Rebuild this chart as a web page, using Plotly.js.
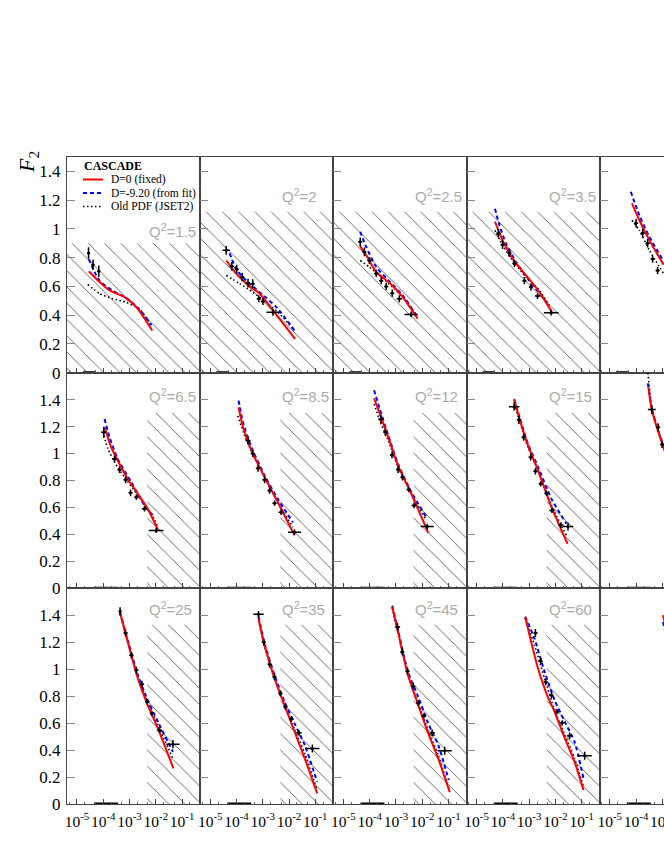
<!DOCTYPE html>
<html><head><meta charset="utf-8">
<script src="https://cdn.plot.ly/plotly-3.0.1.min.js"></script>
<style>html,body{margin:0;padding:0;overflow:hidden;background:#fff;}#chart{width:760px;height:860px;}</style>
</head><body><div id="chart"></div>
<script>
// ---------------- DATA (x given as log10(x), F2 values) ----------------
const q2Labels = ['1.5','2','2.5','3.5','5','6.5','8.5','12','15','20','25','35','45','60','90'];
const xTickVals = [1e-5, 1e-4, 1e-3, 1e-2, 1e-1];
const xTickText = ['10<sup>-5</sup>','10<sup>-4</sup>','10<sup>-3</sup>','10<sup>-2</sup>','10<sup>-1</sup>'];
const yTickVals = [0, 0.2, 0.4, 0.6, 0.8, 1, 1.2, 1.4];

// hatched (excluded) regions: start log10(x) and upper F2 value
const hatchFromLx = [-5.38,-5.38,-5.38,-5.38,null, -2.33,-2.33,-2.33,-2.33,-2.33, -2.33,-2.33,-2.33,-2.33,-2.33];
const hatchTop    = [0.90, 1.12, 1.12, 1.12, null, 1.30, 1.30, 1.30, 1.30, 1.30, 1.33, 1.33, 1.33, 1.33, 1.33];
// short thick segments on the x axis
const zeroBandTopRow = [-4.77, -4.31];
const zeroBandLowRows = [-4.35, -3.44];

// Q2 = 1.5
const d1_lx=[-4.56,-4.39,-4.17], d1_f2=[0.833,0.75,0.705], d1_e=[0.04,0.035,0.04], d1_w=[0.06,0.06,0.06];
const r1_lx=[-4.55,-4.14,-3.76,-3.19,-2.74,-2.135], r1_f2=[0.705,0.63,0.572,0.526,0.456,0.293];
const b1_lx=[-4.55,-4.33,-4.14,-3.64,-3.13,-2.62,-2.17], b1_f2=[0.79,0.70,0.64,0.57,0.52,0.44,0.33];
const o1_lx=[-4.59,-4.14,-3.64,-3.13,-2.62,-2.17], o1_f2=[0.614,0.55,0.514,0.49,0.44,0.33];
// Q2 = 2
const d2_lx=[-4.39,-4.18,-3.99,-3.78,-3.56,-3.38,-3.15,-2.99,-2.61], d2_f2=[0.851,0.74,0.72,0.665,0.623,0.619,0.514,0.495,0.42];
const d2_e=[0.03,0.03,0.03,0.03,0.03,0.03,0.025,0.025,0.025], d2_w=[0.14,0.08,0.08,0.08,0.08,0.08,0.08,0.08,0.25];
const r2_lx=[-4.39,-4.01,-3.63,-3.12,-2.61,-1.77], r2_f2=[0.78,0.69,0.62,0.55,0.433,0.235];
const b2_lx=[-4.26,-4.01,-3.63,-3.12,-2.48,-1.79], b2_f2=[0.83,0.72,0.64,0.56,0.456,0.293];
const o2_lx=[-4.39,-3.885,-3.38,-2.87,-2.36,-1.85], o2_f2=[0.677,0.62,0.56,0.49,0.41,0.305];
// Q2 = 2.5
const d3_lx=[-4.36,-4.20,-4.01,-3.75,-3.56,-3.37,-3.14,-2.87,-2.42], d3_f2=[0.91,0.84,0.78,0.69,0.64,0.60,0.553,0.514,0.405];
const d3_e=[0.03,0.03,0.025,0.025,0.025,0.025,0.025,0.025,0.02], d3_w=[0.08,0.08,0.08,0.08,0.08,0.08,0.08,0.1,0.25];
const r3_lx=[-4.36,-4.13,-3.75,-3.22,-2.74,-2.17], r3_f2=[0.88,0.816,0.70,0.62,0.526,0.375];
const b3_lx=[-4.36,-4.13,-3.75,-3.22,-2.74,-2.22], b3_f2=[0.98,0.874,0.735,0.63,0.537,0.398];
const o3_lx=[-4.36,-4.01,-3.63,-3.12,-2.61,-2.22], o3_f2=[0.78,0.735,0.677,0.595,0.50,0.40];
// Q2 = 3.5
const d4_lx=[-4.17,-4.01,-3.75,-3.56,-3.18,-2.93,-2.68,-2.16], d4_f2=[0.97,0.89,0.83,0.76,0.64,0.595,0.533,0.417];
const d4_e=[0.03,0.03,0.025,0.025,0.025,0.025,0.02,0.02], d4_w=[0.08,0.08,0.08,0.08,0.08,0.08,0.1,0.28];
const r4_lx=[-4.30,-4.01,-3.63,-3.12,-2.61,-2.13], r4_f2=[1.05,0.92,0.793,0.677,0.56,0.42];
const b4_lx=[-4.30,-4.13,-3.885,-3.50,-2.99,-2.235], b4_f2=[1.14,1.026,0.90,0.77,0.64,0.467];
const o4_lx=[-4.30,-4.01,-3.63,-3.12,-2.61,-2.235], o4_f2=[0.99,0.886,0.78,0.665,0.572,0.467];
// Q2 = 5
const d5_lx=[-4.0,-3.75,-3.56,-3.37,-3.18], d5_f2=[1.04,0.97,0.90,0.79,0.71];
const d5_e=[0.03,0.03,0.03,0.025,0.025], d5_w=[0.08,0.08,0.08,0.08,0.08];
const r5_lx=[-4.155,-3.875,-3.49,-2.95], r5_f2=[1.177,1.06,0.92,0.75];
const b5_lx=[-4.20,-3.875,-3.49,-2.95], b5_f2=[1.258,1.095,0.944,0.775];
const o5_lx=[-4.155,-3.875,-3.49,-2.95], o5_f2=[1.06,0.99,0.85,0.69];
// Q2 = 6.5
const d6_lx=[-3.98,-3.57,-3.38,-3.15,-2.96,-2.74,-2.43,-1.985], d6_f2=[1.158,0.96,0.88,0.805,0.709,0.676,0.59,0.43];
const d6_e=[0.04,0.025,0.025,0.025,0.025,0.02,0.02,0.02], d6_w=[0.1,0.08,0.08,0.08,0.08,0.08,0.1,0.28];
const r6_lx=[-3.95,-3.70,-3.45,-3.065,-2.68,-2.31,-1.92], r6_f2=[1.195,1.047,0.948,0.81,0.70,0.59,0.435];
const b6_lx=[-3.95,-3.76,-3.45,-2.93,-2.43,-2.05], b6_f2=[1.257,1.12,0.96,0.787,0.615,0.528];
const o6_lx=[-3.98,-3.82,-3.57,-3.19,-2.68,-2.17,-1.92], o6_f2=[1.133,1.035,0.936,0.825,0.69,0.553,0.454];
// Q2 = 8.5
const d7_lx=[-3.56,-3.38,-3.18,-2.93,-2.74,-2.55,-2.30,-1.79], d7_f2=[1.096,1.0,0.89,0.805,0.726,0.632,0.565,0.417];
const d7_e=[0.03,0.025,0.025,0.025,0.025,0.02,0.02,0.02], d7_w=[0.1,0.08,0.08,0.08,0.08,0.08,0.1,0.25];
const r7_lx=[-3.92,-3.75,-3.43,-2.93,-2.43,-1.79], r7_f2=[1.343,1.195,1.022,0.825,0.64,0.393];
const b7_lx=[-3.92,-3.75,-3.43,-2.93,-2.43,-1.85], b7_f2=[1.393,1.23,1.047,0.837,0.664,0.49];
const o7_lx=[-3.95,-3.69,-3.38,-2.93,-2.43,-1.85], o7_f2=[1.28,1.133,0.998,0.825,0.64,0.454];
// Q2 = 12
const d8_lx=[-3.57,-3.40,-3.15,-2.92,-2.75,-2.515,-2.31,-1.81], d8_f2=[1.257,1.158,0.99,0.881,0.825,0.733,0.615,0.459];
const d8_e=[0.03,0.03,0.025,0.025,0.025,0.02,0.02,0.02], d8_w=[0.1,0.08,0.08,0.08,0.08,0.08,0.1,0.25];
const r8_lx=[-3.83,-3.615,-3.29,-2.92,-2.41,-1.77], r8_f2=[1.41,1.294,1.12,0.911,0.70,0.412];
const b8_lx=[-3.83,-3.615,-3.29,-2.92,-2.41,-1.84], b8_f2=[1.47,1.33,1.133,0.923,0.713,0.528];
const o8_lx=[-3.83,-3.615,-3.29,-2.92,-2.41,-1.84], o8_f2=[1.368,1.244,1.096,0.90,0.70,0.504];
// Q2 = 15
const d9_lx=[-3.57,-3.39,-3.21,-2.94,-2.76,-2.56,-2.34,-2.13,-1.79,-1.52], d9_f2=[1.348,1.25,1.12,0.973,0.869,0.775,0.706,0.578,0.47,0.459];
const d9_e=[0.03,0.03,0.025,0.025,0.025,0.02,0.02,0.02,0.02,0.03], d9_w=[0.2,0.08,0.08,0.08,0.08,0.08,0.08,0.1,0.1,0.2];
const r9_lx=[-3.57,-3.345,-3.045,-2.66,-2.15,-1.54], r9_f2=[1.405,1.244,1.06,0.874,0.602,0.331];
const b9_lx=[-3.57,-3.345,-3.045,-2.66,-2.15,-1.58], b9_f2=[1.40,1.257,1.072,0.90,0.664,0.479];
const o9_lx=[-3.57,-3.345,-3.045,-2.66,-2.15,-1.58], o9_f2=[1.368,1.23,1.047,0.874,0.615,0.393];
// Q2 = 20
const d10_lx=[-3.40,-3.16,-3.01], d10_f2=[1.326,1.195,1.067], d10_e=[0.03,0.03,0.025], d10_w=[0.15,0.08,0.08];
const r10_lx=[-3.53,-3.40,-3.17,-2.91], r10_f2=[1.49,1.32,1.17,1.02];
const b10_lx=[-3.55,-3.40,-3.17,-2.91], b10_f2=[1.52,1.33,1.18,1.03];
const o10_lx=[-3.55,-3.40,-3.17,-2.91], o10_f2=[1.60,1.34,1.18,1.03];
// Q2 = 25
const d11_lx=[-3.36,-3.15,-2.93,-2.74,-2.525,-2.33,-2.15,-1.86,-1.35], d11_f2=[1.43,1.269,1.104,0.993,0.889,0.758,0.672,0.548,0.444];
const d11_e=[0.03,0.025,0.025,0.025,0.025,0.02,0.02,0.02,0.03], d11_w=[0.05,0.08,0.08,0.08,0.08,0.08,0.08,0.1,0.25];
const r11_lx=[-3.36,-3.065,-2.68,-2.31,-1.92,-1.33], r11_f2=[1.425,1.20,0.931,0.733,0.561,0.264];
const b11_lx=[-3.36,-3.065,-2.68,-2.31,-1.92,-1.35], b11_f2=[1.42,1.215,0.956,0.77,0.61,0.387];
const o11_lx=[-3.36,-3.065,-2.68,-2.31,-1.92,-1.35], o11_f2=[1.41,1.205,0.94,0.76,0.585,0.338];
// Q2 = 35
const d12_lx=[-3.16,-2.96,-2.74,-2.55,-2.33,-2.14,-1.91,-1.62,-1.11], d12_f2=[1.407,1.20,1.037,0.943,0.82,0.721,0.63,0.528,0.412];
const d12_e=[0.025,0.025,0.025,0.025,0.02,0.02,0.02,0.02,0.03], d12_w=[0.2,0.08,0.08,0.08,0.08,0.08,0.08,0.1,0.27];
const r12_lx=[-3.16,-2.93,-2.55,-2.17,-1.79,-1.40,-0.93], r12_f2=[1.375,1.178,0.931,0.733,0.536,0.338,0.079];
const b12_lx=[-3.16,-2.93,-2.55,-2.17,-1.79,-1.40,-0.93], b12_f2=[1.39,1.19,0.956,0.758,0.598,0.437,0.165];
const o12_lx=[-3.16,-2.93,-2.55,-2.17,-1.79,-1.40,-0.93], o12_f2=[1.36,1.17,0.931,0.733,0.553,0.376,0.104];
// Q2 = 45
const d13_lx=[-2.94,-2.76,-2.56,-2.34,-2.15,-1.94,-1.62,-1.145], d13_f2=[1.313,1.128,0.985,0.874,0.75,0.652,0.528,0.395];
const d13_e=[0.03,0.025,0.025,0.025,0.02,0.02,0.025,0.03], d13_w=[0.1,0.08,0.08,0.08,0.08,0.08,0.1,0.27];
const r13_lx=[-3.14,-2.92,-2.54,-2.15,-1.77,-1.39,-0.95], r13_f2=[1.462,1.277,0.956,0.733,0.524,0.338,0.087];
const b13_lx=[-3.14,-2.92,-2.54,-2.15,-1.77,-1.39,-0.99], b13_f2=[1.47,1.29,0.98,0.795,0.598,0.437,0.178];
const o13_lx=[-3.14,-2.92,-2.54,-2.15,-1.77,-1.39,-0.99], o13_f2=[1.455,1.27,0.956,0.746,0.548,0.363,0.116];
// Q2 = 60
const d14_lx=[-2.76,-2.56,-2.37,-2.15,-1.94,-1.74,-1.46,-0.885], d14_f2=[1.269,1.059,0.906,0.807,0.684,0.602,0.506,0.358];
const d14_e=[0.03,0.025,0.025,0.025,0.02,0.02,0.025,0.03], d14_w=[0.08,0.08,0.08,0.08,0.08,0.08,0.1,0.27];
const r14_lx=[-3.15,-2.92,-2.66,-2.29,-2.03,-1.64,-1.27,-0.93], r14_f2=[1.387,1.20,1.005,0.795,0.684,0.486,0.313,0.104];
const b14_lx=[-3.15,-2.795,-2.41,-2.03,-1.64,-1.27,-0.93], b14_f2=[1.39,1.227,0.98,0.77,0.61,0.461,0.19];
const o14_lx=[-3.15,-2.795,-2.41,-2.03,-1.64,-1.27,-0.93], o14_f2=[1.38,1.178,0.931,0.696,0.511,0.338,0.128];
// Q2 = 90 (only the very start is visible)
const d15_lx=[], d15_f2=[], d15_e=[], d15_w=[];
const r15_lx=[-2.97,-2.88], r15_f2=[1.40,1.32];
const b15_lx=[-2.97,-2.88], b15_f2=[1.35,1.27];
const o15_lx=[], o15_f2=[];

const legendNames = ['D=0 (fixed)', 'D=-9.20 (from fit)', 'Old PDF (JSET2)'];

// ---------------- table for the library ----------------
const panels = [
 [d1_lx,d1_f2,d1_e,d1_w,r1_lx,r1_f2,b1_lx,b1_f2,o1_lx,o1_f2],
 [d2_lx,d2_f2,d2_e,d2_w,r2_lx,r2_f2,b2_lx,b2_f2,o2_lx,o2_f2],
 [d3_lx,d3_f2,d3_e,d3_w,r3_lx,r3_f2,b3_lx,b3_f2,o3_lx,o3_f2],
 [d4_lx,d4_f2,d4_e,d4_w,r4_lx,r4_f2,b4_lx,b4_f2,o4_lx,o4_f2],
 [d5_lx,d5_f2,d5_e,d5_w,r5_lx,r5_f2,b5_lx,b5_f2,o5_lx,o5_f2],
 [d6_lx,d6_f2,d6_e,d6_w,r6_lx,r6_f2,b6_lx,b6_f2,o6_lx,o6_f2],
 [d7_lx,d7_f2,d7_e,d7_w,r7_lx,r7_f2,b7_lx,b7_f2,o7_lx,o7_f2],
 [d8_lx,d8_f2,d8_e,d8_w,r8_lx,r8_f2,b8_lx,b8_f2,o8_lx,o8_f2],
 [d9_lx,d9_f2,d9_e,d9_w,r9_lx,r9_f2,b9_lx,b9_f2,o9_lx,o9_f2],
 [d10_lx,d10_f2,d10_e,d10_w,r10_lx,r10_f2,b10_lx,b10_f2,o10_lx,o10_f2],
 [d11_lx,d11_f2,d11_e,d11_w,r11_lx,r11_f2,b11_lx,b11_f2,o11_lx,o11_f2],
 [d12_lx,d12_f2,d12_e,d12_w,r12_lx,r12_f2,b12_lx,b12_f2,o12_lx,o12_f2],
 [d13_lx,d13_f2,d13_e,d13_w,r13_lx,r13_f2,b13_lx,b13_f2,o13_lx,o13_f2],
 [d14_lx,d14_f2,d14_e,d14_w,r14_lx,r14_f2,b14_lx,b14_f2,o14_lx,o14_f2],
 [d15_lx,d15_f2,d15_e,d15_w,r15_lx,r15_f2,b15_lx,b15_f2,o15_lx,o15_f2]
];

// ---------------- layout / drawing ----------------
const W=760, H=860, ML=67, MR=27, MT=157, MB=56;
const PW=W-ML-MR, PH=H-MT-MB;
const SERIF='"Liberation Serif","Times New Roman",serif';
const SANS='"Liberation Sans",Arial,sans-serif';
const XRANGE=[-5.38,-0.31];
const YRANGES=[[0,1.5],[0,1.6],[0,1.6]];
const LABELY=[0.82,0.895,0.905];
const RED='#ff0000', BLUE='#0000ff', BLACK='#000000';
const pow10 = a => a.map(v => Math.pow(10, v));
const px = p => (p-ML)/PW, py = p => (H-MB-p)/PH;

const traces=[];
const layout={
  width:W, height:H, margin:{l:ML,r:MR,t:MT,b:MB,pad:0},
  paper_bgcolor:'#ffffff', plot_bgcolor:'rgba(0,0,0,0)', showlegend:false,
  font:{family:SERIF,color:'#000'}, annotations:[], shapes:[]
};

panels.forEach((p,i)=>{
  const n=i+1, row=Math.floor(i/5), col=i%5;
  const xa=n===1?'x':'x'+n, ya=n===1?'y':'y'+n;
  layout[n===1?'xaxis':'xaxis'+n]={
    type:'log', range:XRANGE, domain:[col/5,(col+1)/5], anchor:ya,
    showline:true, mirror:true, linecolor:'#444', linewidth:1,
    ticks:'inside', ticklen:5, tickcolor:'#444', tickwidth:1,
    minor:{ticks:'inside', ticklen:2.5, tickcolor:'#666', showgrid:false},
    tickmode:'array', tickvals:xTickVals, ticktext:xTickText, tickangle:0,
    showticklabels:row===2, ticklabelstandoff:3,
    tickfont:{family:SERIF,size:15.5,color:'#000'},
    showgrid:false, zeroline:false, fixedrange:true
  };
  layout[n===1?'yaxis':'yaxis'+n]={
    range:YRANGES[row], domain:[(2-row)/3,(3-row)/3], anchor:xa,
    showline:true, mirror:true, linecolor:'#444', linewidth:1,
    ticks:'inside', ticklen:8, tickcolor:'#888', tickwidth:1,
    tickmode:'array', tickvals:yTickVals,
    showticklabels:col===0, ticklabelstandoff:2, tickfont:{family:SERIF,size:17,color:'#000'},
    showgrid:false, zeroline:false, fixedrange:true
  };
  // hatched region
  if (hatchTop[i]!==null){
    const x0=Math.pow(10,hatchFromLx[i]), x1=1;
    traces.push({type:'scatter', mode:'lines', xaxis:xa, yaxis:ya,
      x:[x0,x1,x1,x0,x0], y:[0,0,hatchTop[i],hatchTop[i],0],
      fill:'toself', fillcolor:'rgba(0,0,0,0)', line:{width:0,color:'rgba(0,0,0,0)'},
      fillpattern:{shape:'\\', size:11.5, solidity:0.075, fgcolor:'#555555', bgcolor:'rgba(0,0,0,0)'},
      hoverinfo:'skip', showlegend:false});
  }
  // thick segment on x axis
  const zb = row===0 ? zeroBandTopRow : zeroBandLowRows;
  traces.push({type:'scatter', mode:'lines', xaxis:xa, yaxis:ya, x:pow10(zb), y:[0,0],
    line:{color:'#000',width:3}, hoverinfo:'skip', showlegend:false});
  const [dlx,df2,de,dw,rlx,rf2,blx,bf2,olx,of2]=p;
  // model curves
  traces.push({type:'scatter', mode:'lines', name:legendNames[2], xaxis:xa, yaxis:ya,
    x:pow10(olx), y:of2, line:{color:BLACK,width:1.6,dash:'1.5px,2.5px',shape:'spline',smoothing:0.6}, showlegend:false});
  traces.push({type:'scatter', mode:'lines', name:legendNames[1], xaxis:xa, yaxis:ya,
    x:pow10(blx), y:bf2, line:{color:BLUE,width:2,dash:'4px,3px',shape:'spline',smoothing:0.6}, showlegend:false});
  traces.push({type:'scatter', mode:'lines', name:legendNames[0], xaxis:xa, yaxis:ya,
    x:pow10(rlx), y:rf2, line:{color:RED,width:2,shape:'spline',smoothing:0.6}, showlegend:false});
  // data points
  if (dlx.length){
    const xs=pow10(dlx);
    traces.push({type:'scatter', mode:'markers', name:'H1 data', xaxis:xa, yaxis:ya,
      x:xs, y:df2, marker:{color:'#000',size:3},
      error_x:{type:'data', symmetric:false,
        array:xs.map((x,k)=>x*(Math.pow(10,dw[k])-1)),
        arrayminus:xs.map((x,k)=>x*(1-Math.pow(10,-dw[k]))),
        color:'#000', thickness:1.5, width:0},
      error_y:{type:'data', array:de, color:'#000', thickness:1.5, width:0},
      showlegend:false});
  }
  // Q2 label
  layout.annotations.push({xref:xa+' domain', yref:ya+' domain', x:0.6,
    y:(i===0?0.66:LABELY[row]), xanchor:'left', yanchor:'middle', showarrow:false,
    text:'Q<sup>2</sup>='+q2Labels[i], font:{family:SANS,size:15,color:'#ababab'}});
});

// y-axis title
layout.annotations.push({xref:'paper', yref:'paper', x:px(28), y:py(162), xanchor:'center', yanchor:'middle',
  textangle:-90, showarrow:false, text:'<i>F</i><sub>2</sub>', font:{family:SERIF,size:22,color:'#000'}});

// legend (drawn box-free like the original)
layout.annotations.push({xref:'paper', yref:'paper', x:px(82), y:py(166), xanchor:'left', yanchor:'middle',
  showarrow:false, text:'<b>CASCADE</b>', font:{family:SERIF,size:12,color:'#000'}});
const legStyles=[{color:RED,width:2,dash:'solid'},{color:BLUE,width:2,dash:'4px,3px'},{color:BLACK,width:1.6,dash:'1.5px,2.5px'}];
const legY=[179.5,193,206.5];
legendNames.forEach((nm,k)=>{
  layout.shapes.push({type:'line', xref:'paper', yref:'paper', x0:px(83), x1:px(103), y0:py(legY[k]), y1:py(legY[k]), line:legStyles[k]});
  layout.annotations.push({xref:'paper', yref:'paper', x:px(109), y:py(legY[k]), xanchor:'left', yanchor:'middle',
    showarrow:false, text:nm, font:{family:SERIF,size:11.5,color:'#000'}});
});

Plotly.newPlot('chart', traces, layout, {staticPlot:true, displayModeBar:false, responsive:false});
</script>
</body></html>
